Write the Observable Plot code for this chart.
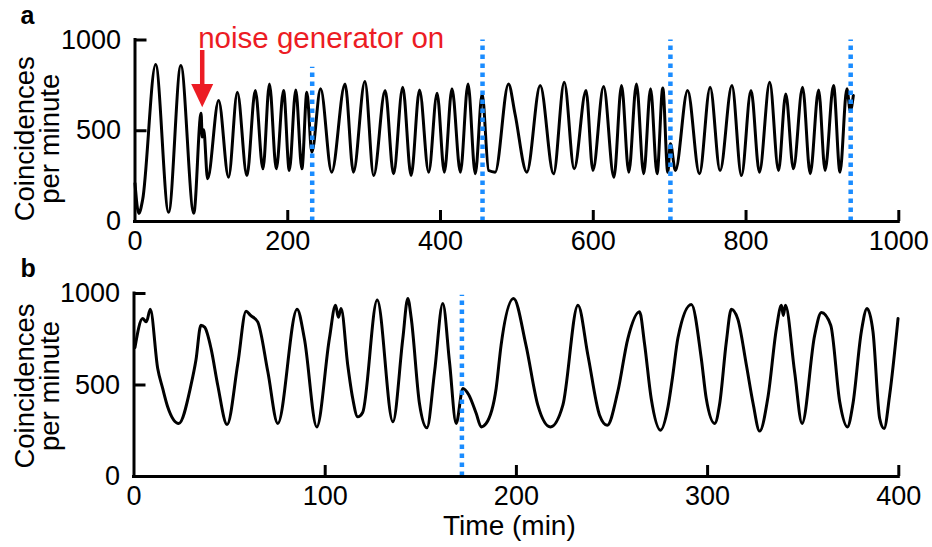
<!DOCTYPE html>
<html>
<head>
<meta charset="utf-8">
<script src="https://cdn.jsdelivr.net/npm/d3@7"></script>
<script src="https://cdn.jsdelivr.net/npm/@observablehq/plot@0.6"></script>
<style>
  body { margin: 0; background: #fff; font-family: "Liberation Sans", Arial, sans-serif; }
  #chart svg { display: block; }
</style>
</head>
<body>
<div id="chart"></div>
<script>
// Panel a: coincidence counts over the long run (time in minutes)
const timeA = [0, 5, 10, 27, 44, 60, 77, 86.5, 88, 90, 95, 109.5, 122.5, 134, 146.5, 157.5, 167.5, 176, 185, 194.5,
  202, 210.5, 218.5, 225, 231.5, 243, 257.5, 275, 286, 301, 312.5, 327.5, 338.5, 350.5, 361.5, 372.5, 384.5, 395.5,
  405, 415, 426, 436, 445.5, 454.5, 463, 471.5, 489, 497.5, 513, 530.5, 548, 562, 575, 590.5, 599.5, 613.5, 627,
  637, 646.5, 656.5, 666, 675, 683.5, 691, 697.5, 701, 707.5, 723.5, 739, 753, 766, 781.5, 794, 806.5, 817.5, 831,
  842.5, 852, 862, 874, 884, 895, 903.5, 914.5, 923, 932, 936.5, 940.5];
const countsA = [210, 44, 120, 865, 51, 860, 46, 597, 465, 505, 235, 667, 244, 712, 253, 722, 290, 758, 290, 722,
  281, 725, 290, 712, 382, 731, 272, 758, 272, 772, 253, 722, 263, 740, 253, 725, 272, 707,
  272, 731, 272, 758, 263, 703, 281, 272, 758, 594, 272, 749, 263, 767, 290, 722, 281, 744, 244,
  749, 272, 758, 263, 731, 263, 736, 272, 428, 281, 722, 263, 740, 281, 749, 253, 722, 272, 767,
  281, 703, 290, 740, 263, 725, 281, 749, 272, 731, 611, 694];

// Panel b: the first 400 minutes at higher time resolution
const timeB = [0.5, 4.5, 6.5, 8.5, 12.4, 15, 17.6, 23.4, 29.8, 32.4, 35, 37, 40.3, 43.8, 48.7, 54.3, 58.6, 61, 64.7,
  70, 75.2, 85.3, 89.1, 95.6, 102.2, 105.4, 106.9, 108.3, 111.8, 114.4, 117, 119.6, 127.2, 135.4, 140.6, 143.2,
  145, 149.3, 153.2, 157.2, 161.5, 165, 168.5, 172, 175, 179, 181.6, 184.2, 189.4, 192, 198.5, 205, 211.2, 217.8,
  224.3, 232.2, 237.4, 243.5, 247.5, 253, 258.3, 264.4, 267, 270.5, 275.4, 279.3, 281.7, 284.5, 291.5, 296.7,
  299.3, 303.7, 306.3, 309.8, 312.4, 315.8, 320.3, 323.8, 327.2, 331.6, 336, 338.6, 339.6, 340.7, 345.5, 349.4,
  356, 359.5, 364.4, 369.1, 373.1, 376, 380.4, 383.4, 386.5, 390, 392.3, 395.2, 399.6];
const countsB = [705, 863, 845, 914, 590, 481, 381, 290, 499, 636, 827, 815, 699, 499, 284, 617, 903, 880, 845,
  572, 290, 914, 754, 271, 754, 936, 870, 918, 608, 426, 326, 350, 964, 299, 754, 973,
  865, 399, 266, 572, 945, 627, 290, 481, 448, 344, 271, 290, 481, 718, 973, 718, 390, 271,
  390, 936, 663, 335, 280, 463, 754, 900, 727, 426, 253, 381, 545, 758, 940, 645,
  426, 290, 396, 736, 914, 860, 608, 399, 248, 436, 809, 936, 880, 936, 572, 290,
  772, 896, 827, 408, 271, 396, 791, 918, 791, 317, 262, 444, 863];

// Dotted markers (minutes) and the count where each marker stops
const markerTimesA = [232, 455, 701, 937];
const markerTopsA = [850, 1000, 1000, 1000];
const markerTimesB = [171.5];
const markerTopsB = [990];

// Axis tick values
const xTicksA = [0, 200, 400, 600, 800, 1000];
const xTicksB = [0, 100, 200, 300, 400];
const yTicks = [0, 500, 1000];

// Annotation for the moment the noise generator is switched on
const noiseOnTime = 88;
const noiseLabel = "noise generator on";

const FONT = "'Liberation Sans', Arial, sans-serif";
const BLUE = "#1a8cff";
const RED = "#ec1c24";
const W = 932;

const seriesA = timeA.map((t, i) => ({t, c: countsA[i]}));
const seriesB = timeB.map((t, i) => ({t, c: countsB[i]}));
const markersA = markerTimesA.map((t, i) => ({t, top: markerTopsA[i]}));
const markersB = markerTimesB.map((t, i) => ({t, top: markerTopsB[i]}));

// Filled arrowhead with its tip at the anchor point
const arrowHead = {
  draw(context, size) {
    const s = Math.sqrt(size / Math.PI);
    context.moveTo(0, 0);
    context.lineTo(-s, -2.1 * s);
    context.lineTo(s, -2.1 * s);
    context.closePath();
  }
};

function panel({series, markers, xDomain, xTicks, height, margins, tag, extra = [], labelDy, xLabel}) {
  const innerH = height - margins.top - margins.bottom;
  const innerW = W - margins.left - margins.right;
  return Plot.plot({
    width: W,
    height,
    marginLeft: margins.left,
    marginRight: margins.right,
    marginTop: margins.top,
    marginBottom: margins.bottom,
    style: {fontFamily: FONT, background: "#fff", overflow: "visible"},
    x: {domain: xDomain},
    y: {domain: [0, 1000]},
    marks: [
      Plot.line(series, {x: "t", y: "c", curve: "monotone-x", stroke: "#000", strokeWidth: 3, strokeLinejoin: "round"}),
      Plot.ruleX(markers, {x: "t", y1: 0, y2: "top", stroke: BLUE, strokeWidth: 4.5, strokeDasharray: "4.5,4.5"}),
      Plot.ruleX([0], {stroke: "#000", strokeWidth: 3, strokeLinecap: "square"}),
      Plot.ruleY([0], {stroke: "#000", strokeWidth: 3, strokeLinecap: "square"}),
      Plot.tickX(xTicks.slice(1), {x: d => d, insetTop: innerH - 11, stroke: "#000", strokeWidth: 3}),
      Plot.tickY(yTicks.slice(1), {y: d => d, insetRight: innerW - 12, stroke: "#000", strokeWidth: 3}),
      Plot.axisX({ticks: xTicks, tickSize: 0, tickPadding: 9, fontSize: 27, label: null, tickFormat: d => String(d)}),
      Plot.axisY({ticks: yTicks, tickSize: 0, tickPadding: 14, fontSize: 27, label: null, tickFormat: d => String(d)}),
      Plot.text(["Coincidences"], {text: d => d, frameAnchor: "left", rotate: -90, textAnchor: "middle",
        lineAnchor: "bottom", dx: 33 - margins.left, dy: labelDy, fontSize: 27.5, fill: "#000"}),
      Plot.text(["per minute"], {text: d => d, frameAnchor: "left", rotate: -90, textAnchor: "middle",
        lineAnchor: "bottom", dx: 58 - margins.left, dy: labelDy, fontSize: 27.5, fill: "#000"}),
      Plot.text([tag], {text: d => d, frameAnchor: "top-left", textAnchor: "start", lineAnchor: "bottom",
        dx: 20 - margins.left, dy: -16.5, fontSize: 25, fontWeight: "bold", fill: "#000"}),
      ...(xLabel ? [Plot.text([xLabel], {text: d => d, frameAnchor: "bottom", textAnchor: "middle", lineAnchor: "bottom",
        dx: -7, dy: 58, fontSize: 28, fill: "#000"})] : []),
      ...extra
    ]
  });
}

const chartA = panel({
  series: seriesA, markers: markersA, xDomain: [0, 1000], xTicks: xTicksA,
  height: 257, margins: {top: 39.5, bottom: 36, left: 134.5, right: 33.7}, tag: "a", labelDy: 8,
  extra: [
    Plot.ruleX([noiseOnTime], {x: d => d, y1: 942, y2: 740, stroke: RED, strokeWidth: 4.5}),
    Plot.dot([noiseOnTime], {x: d => d, y: 630, symbol: arrowHead, r: 11, fill: RED, stroke: "none"}),
    Plot.text([noiseLabel], {text: d => d, x: noiseOnTime, y: 1000, dx: -4, dy: 7.5, textAnchor: "start",
      lineAnchor: "bottom", fontSize: 29.5, fill: RED})
  ]
});

const chartB = panel({
  series: seriesB, markers: markersB, xDomain: [0, 400], xTicks: xTicksB,
  height: 290, margins: {top: 36, bottom: 71, left: 133.5, right: 33.7}, tag: "b", labelDy: 1,
  xLabel: "Time (min)"
});

const root = document.getElementById("chart");
root.append(chartA, chartB);
</script>
</body>
</html>
